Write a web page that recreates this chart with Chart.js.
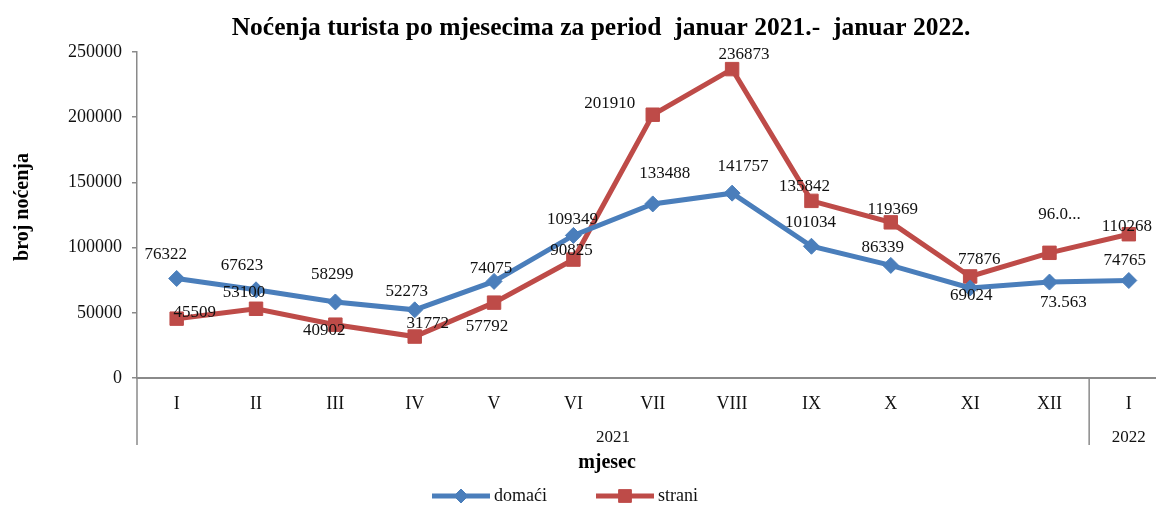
<!DOCTYPE html>
<html>
<head>
<meta charset="utf-8">
<script src="https://cdn.jsdelivr.net/npm/chart.js@4.4.1/dist/chart.umd.min.js"></script>
<style>
    html, body { margin: 0; padding: 0; background: white; overflow: hidden; width: 1156px; height: 506px; }
    #chart { display: block; }
</style>
</head>
<body>
<!-- plot area runs a little past the right edge of the page, as in the original -->
<canvas id="chart" width="1179" height="506"></canvas>
<script>
/// Data
const months = ["I", "II", "III", "IV", "V", "VI", "VII", "VIII", "IX", "X", "XI", "XII", "I"];
const years = ["2021", "2022"];
const yearSpans = [12, 1];

const domaci = [76322, 67623, 58299, 52273, 74075, 109349, 133488, 141757, 101034, 86339, 69024, 73563, 74765];
const strani = [45509, 53100, 40902, 31772, 57792, 90825, 201910, 236873, 135842, 119369, 77876, 96000, 110268];

const domaciText = ["76322", "67623", "58299", "52273", "74075", "109349", "133488", "141757", "101034", "86339", "69024", "73.563", "74765"];
const straniText = ["45509", "53100", "40902", "31772", "57792", "90825", "201910", "236873", "135842", "119369", "77876", "96.0...", "110268"];

/// Label placement (dx, dy from the point, px)
const domaciLabelPos = [[-11, -24], [-14, -24], [-3, -27], [-8, -18], [-3, -13], [-1, -16], [12, -30],
    [11, -27], [-1, -24], [-8, -18], [1, 8], [14, 20], [-4, -20]];
const straniLabelPos = [[18, -6], [-12, -16], [-11, 6], [13, -13], [-7, 24], [-2, -9], [-43, -11],
    [12, -15], [-7, -14], [2, -13], [9, -17], [10, -38], [-2, -8]];

const BLUE = "#4a7ebb";
const RED = "#be4b48";
const AXIS = "#8a8a8a";
const SERIF = "'Liberation Serif', 'DejaVu Serif', serif";

Chart.defaults.font.family = SERIF;
Chart.defaults.color = "#111";

/// Extra drawing: title, axis titles, year row, data labels, legend
const decorations = {
    id: "decorations",
    afterDraw(chart) {
        const ctx = chart.ctx;
        const area = chart.chartArea;
        const x = chart.scales.x;
        ctx.save();

        // title
        ctx.fillStyle = "#000";
        ctx.textAlign = "center";
        ctx.textBaseline = "middle";
        ctx.font = "bold 25.5px " + SERIF;
        ctx.fillText("Noćenja turista po mjesecima za period  januar 2021.-  januar 2022.", 601, 28);

        // y title
        ctx.save();
        ctx.translate(23, 207);
        ctx.rotate(-Math.PI / 2);
        ctx.font = "bold 20px " + SERIF;
        ctx.fillText("broj noćenja", 0, 0);
        ctx.restore();

        // x title
        ctx.font = "bold 20px " + SERIF;
        ctx.fillText("mjesec", 607, 463);

        // year row and separators
        ctx.strokeStyle = AXIS;
        ctx.lineWidth = 1.5;
        ctx.font = "17px " + SERIF;
        ctx.fillStyle = "#111";
        const half = (x.getPixelForValue(1) - x.getPixelForValue(0)) / 2;
        let start = 0;
        years.forEach((year, i) => {
            const left = x.getPixelForValue(start) - half;
            const right = x.getPixelForValue(start + yearSpans[i] - 1) + half;
            ctx.beginPath();
            ctx.moveTo(left, area.bottom);
            ctx.lineTo(left, 445);
            ctx.stroke();
            ctx.fillText(year, (left + right) / 2, 438);
            start += yearSpans[i];
        });

        // data labels
        ctx.font = "17px " + SERIF;
        ctx.fillStyle = "#111";
        [[domaciText, domaciLabelPos], [straniText, straniLabelPos]].forEach(([texts, pos], d) => {
            const meta = chart.getDatasetMeta(d);
            meta.data.forEach((pt, i) => {
                ctx.fillText(texts[i], pt.x + pos[i][0], pt.y + pos[i][1]);
            });
        });

        // legend
        const items = [
            { label: "domaći", color: BLUE, style: "rectRot", radius: 7, x: 432 },
            { label: "strani", color: RED, style: "rect", radius: 9, x: 596 }
        ];
        ctx.font = "18px " + SERIF;
        ctx.textAlign = "left";
        items.forEach(item => {
            ctx.strokeStyle = item.color;
            ctx.fillStyle = item.color;
            ctx.lineWidth = 5;
            ctx.beginPath();
            ctx.moveTo(item.x, 496);
            ctx.lineTo(item.x + 58, 496);
            ctx.stroke();
            ctx.lineWidth = 1;
            Chart.helpers.drawPoint(ctx, { pointStyle: item.style, radius: item.radius, borderWidth: 1 }, item.x + 29, 496);
            ctx.fillStyle = "#111";
            ctx.fillText(item.label, item.x + 62, 496);
        });

        ctx.restore();
    }
};

/// Setup chart
const chart = new Chart("chart", {
    type: "line",
    data: {
        labels: months,
        datasets: [
            {
                label: "domaći",
                data: domaci,
                borderColor: BLUE,
                backgroundColor: BLUE,
                borderWidth: 5,
                pointStyle: "rectRot",
                pointRadius: 8,
                pointBorderWidth: 1,
                tension: 0
            },
            {
                label: "strani",
                data: strani,
                borderColor: RED,
                backgroundColor: RED,
                borderWidth: 5,
                pointStyle: "rect",
                pointRadius: 9.5,
                pointBorderWidth: 1,
                tension: 0
            }
        ]
    },
    options: {
        responsive: false,
        animation: false,
        layout: {
            padding: { top: 52, left: 0, right: 0, bottom: 0 }
        },
        plugins: {
            legend: { display: false },
            tooltip: { enabled: false }
        },
        scales: {
            x: {
                offset: true,
                grid: { display: false, drawTicks: false, offset: true },
                border: { display: true, color: AXIS, width: 2 },
                ticks: { font: { size: 18 }, padding: 15, maxRotation: 0, autoSkip: false },
                afterFit(scale) {
                    scale.height = 128;
                    scale.paddingLeft = 0;
                    scale.paddingRight = 0;
                }
            },
            y: {
                min: 0,
                max: 250000,
                ticks: {
                    stepSize: 50000,
                    font: { size: 18 },
                    padding: 10,
                    callback: value => String(value)
                },
                grid: { drawOnChartArea: false, drawTicks: true, tickLength: 5, color: AXIS, lineWidth: 1.5 },
                border: { display: true, color: AXIS, width: 1.5 },
                afterFit(scale) {
                    scale.width = 137;
                    scale.paddingTop = 0;
                    scale.paddingBottom = 0;
                }
            }
        }
    },
    plugins: [decorations]
});
</script>
</body>
</html>
